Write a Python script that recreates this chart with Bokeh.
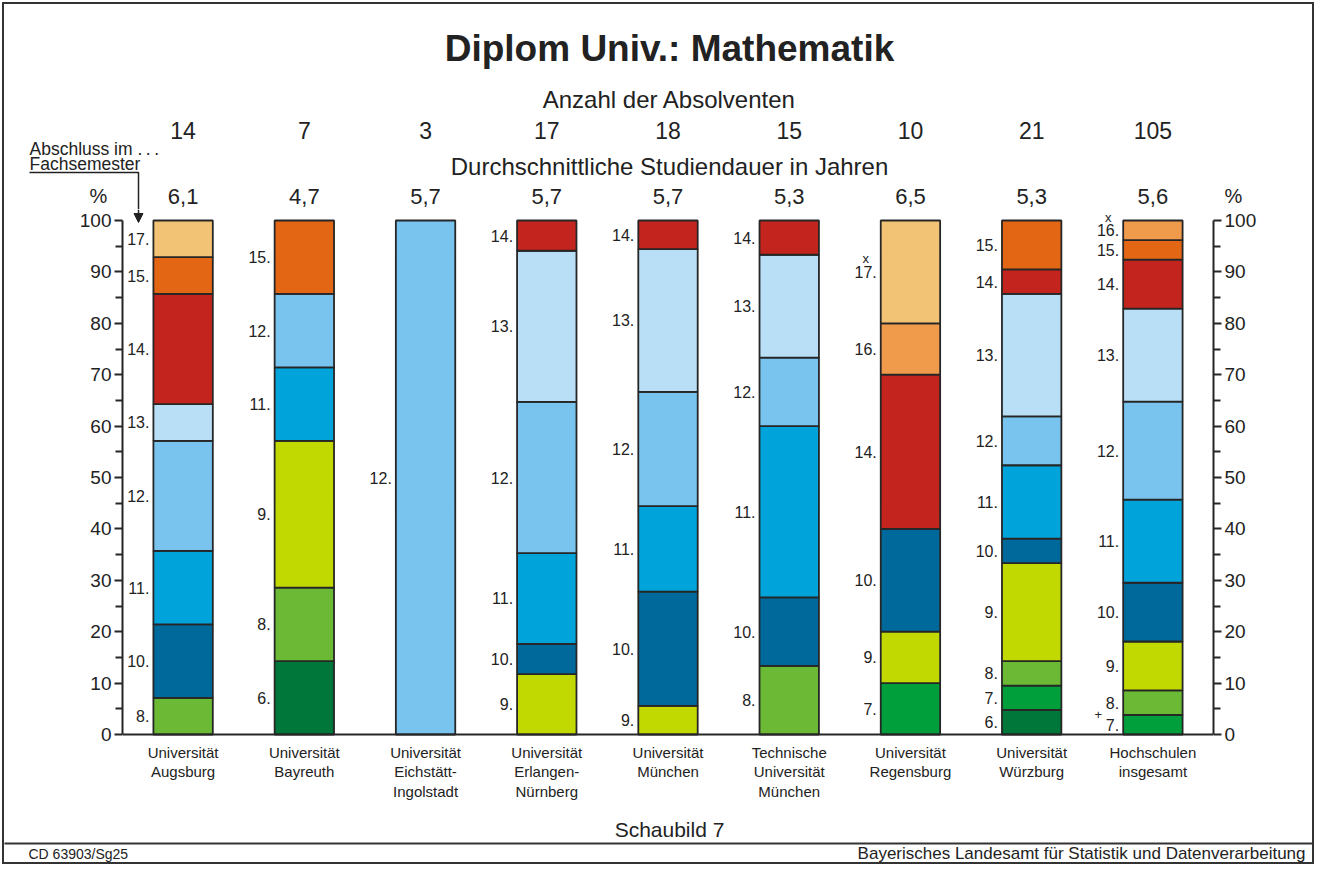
from bokeh.plotting import figure
from bokeh.layouts import column
from bokeh.models import (FactorRange, Range1d, LinearAxis, FixedTicker, ColumnDataSource,
                          LabelSet, Span, Arrow, NormalHead)
from bokeh.core.properties import value
from bokeh.embed import file_html
from bokeh.resources import INLINE

# ---------------- data ----------------
universities = ["Universität\nAugsburg", "Universität\nBayreuth", "Universität\nEichstätt-\nIngolstadt",
                "Universität\nErlangen-\nNürnberg", "Universität\nMünchen", "Technische\nUniversität\nMünchen",
                "Universität\nRegensburg", "Universität\nWürzburg", "Hochschulen\ninsgesamt"]
absolventen = [14, 7, 3, 17, 18, 15, 10, 21, 105]
studiendauer = ["6,1", "4,7", "5,7", "5,7", "5,7", "5,3", "6,5", "5,3", "5,6"]

# graduates per "Fachsemester" of the degree (semester: count)
augsburg = {8: 1, 10: 2, 11: 2, 12: 3, 13: 1, 14: 3, 15: 1, 17: 1}
bayreuth = {6: 1, 8: 1, 9: 2, 11: 1, 12: 1, 15: 1}
eichstaett = {12: 3}
erlangen = {9: 2, 10: 1, 11: 3, 12: 5, 13: 5, 14: 1}
muenchen = {9: 1, 10: 4, 11: 3, 12: 4, 13: 5, 14: 1}
tu_muenchen = {8: 2, 10: 2, 11: 5, 12: 2, 13: 3, 14: 1}
regensburg = {7: 1, 9: 1, 10: 2, 14: 3, 16: 1, 17: 2}
wuerzburg = {6: 1, 7: 1, 8: 1, 9: 4, 10: 1, 11: 3, 12: 2, 13: 5, 14: 1, 15: 2}
insgesamt = {7: 4, 8: 5, 9: 10, 10: 12, 11: 17, 12: 20, 13: 19, 14: 10, 15: 4, 16: 4}
counts = [augsburg, bayreuth, eichstaett, erlangen, muenchen, tu_muenchen, regensburg, wuerzburg, insgesamt]

# footnote marks next to a segment label: (university index, semester, mark)
marks = [(6, 17, "x"), (8, 16, "x"), (8, 7, "+")]

semester_colors = {6: "#00773A", 7: "#009F3C", 8: "#6BB934", 9: "#C1D900", 10: "#00699B",
                   11: "#00A3DA", 12: "#78C4EE", 13: "#B8DFF5", 14: "#C3251E", 15: "#E26614",
                   16: "#F09A4C", 17: "#F3C375"}

# ---------------- layout ----------------
FONT = value("Liberation Sans")
TXT = "#222222"
LINE = "#262626"
W, H = 1316, 866
HEAD_H = 209                  # header strip: y 0..209
MAIN_TOP = HEAD_H
FRAME_BOT, MAIN_BOT = 740, 806  # frame bottom / main figure bottom (names axis in between)
FOOT_H = H - MAIN_BOT
FL, FR = 122, 1213            # plot frame (left / right axis lines)
Y_ZERO, Y_HUNDRED = 734, 220
PXY = (Y_ZERO - Y_HUNDRED) / 100.0
N = len(universities)
UNIT = (FR - FL) / N
centers_px = [FL + (i + 0.5) * UNIT for i in range(N)]
CX = (FL + FR) / 2 + 1.5


def sx(px):  # pixel x -> synthetic categorical x of the main plot
    return (px - FL) / UNIT


def sy(py):  # pixel y -> percent
    return (Y_ZERO - py) / PXY


def transparent(f):
    f.frame_align = False
    f.outline_line_color = None
    f.grid.visible = False
    f.border_fill_color = None
    f.background_fill_color = None


def strip(height, y_top):
    f = figure(width=W, height=height, x_range=Range1d(0, W), y_range=Range1d(y_top + height, y_top),
               output_backend="svg", toolbar_location=None, tools="",
               x_axis_location=None, y_axis_location=None,
               min_border=0, min_border_left=0, min_border_right=0, min_border_top=0, min_border_bottom=0)
    transparent(f)
    return f


def txt(f, xs, ys, texts, size, align="center", bold=False):
    f.text(x=xs, y=ys, text=texts, text_align=align, text_baseline="middle", text_font=FONT,
           text_font_size=size, text_color=TXT, text_font_style="bold" if bold else "normal")


# ---------------- header ----------------
head = strip(HEAD_H, 0)
txt(head, [CX], [48], ["Diplom Univ.: Mathematik"], "37px", bold=True)
txt(head, [CX], [99], ["Anzahl der Absolventen"], "24px")
txt(head, centers_px, [130] * N, [str(v) for v in absolventen], "23px")
txt(head, [CX], [166], ["Durchschnittliche Studiendauer in Jahren"], "24px")
txt(head, centers_px, [196] * N, studiendauer, "22px")
txt(head, [98, 1233], [195, 195], ["%", "%"], "20px")
txt(head, [29, 29], [148, 163], ["Abschluss im .\u2009.\u2009.", "Fachsemester"], "17.5px", align="left")
head.line(x=[29, 138, 138], y=[172, 172, HEAD_H], line_color=TXT, line_width=1.5)

# ---------------- main plot ----------------
p = figure(width=W, height=MAIN_BOT - MAIN_TOP, x_range=FactorRange(factors=universities, range_padding=0),
           y_range=Range1d(sy(FRAME_BOT), sy(MAIN_TOP)), output_backend="svg", toolbar_location=None,
           tools="", x_axis_location="below", y_axis_location="left",
           min_border_left=FL, min_border_right=W - FR, min_border_top=0,
           min_border_bottom=MAIN_BOT - FRAME_BOT)
transparent(p)

rows = dict(x=[], bottom=[], top=[], mid=[], color=[], label=[])
for uni, total, cnt in zip(universities, absolventen, counts):
    cum = 0.0
    for sem in sorted(cnt):
        pct = cnt[sem] / total * 100
        rows["x"].append(uni)
        rows["bottom"].append(cum)
        rows["top"].append(cum + pct)
        rows["mid"].append(cum + pct / 2)
        rows["color"].append(semester_colors[sem])
        rows["label"].append(f"{sem}.")
        cum += pct
seg = ColumnDataSource(rows)
BAR_W = 0.49
p.vbar(x="x", bottom="bottom", top="top", width=BAR_W, fill_color="color",
       line_color=LINE, line_width=1.8, source=seg)

lab_off = -(BAR_W * UNIT / 2 + 4)
p.add_layout(LabelSet(x="x", y="mid", text="label", source=seg, x_offset=lab_off,
                      text_align="right", text_baseline="middle", text_font=FONT,
                      text_font_size="16px", text_color=TXT))

mk = dict(x=[], y=[], text=[], xo=[])
for ui, sem, m in marks:
    for x, mid, lab in zip(rows["x"], rows["mid"], rows["label"]):
        if x == universities[ui] and lab == f"{sem}.":
            mk["x"].append(x)
            mk["text"].append(m)
            if m == "x":
                mk["y"].append(mid + 13 / PXY)
                mk["xo"].append(lab_off - 11)
            else:
                mk["y"].append(mid + 10 / PXY)
                mk["xo"].append(lab_off - 21)
p.add_layout(LabelSet(x="x", y="y", text="text", source=ColumnDataSource(mk), x_offset="xo",
                      text_align="center", text_baseline="middle", text_font=FONT,
                      text_font_size="13px", text_color=TXT))

p.add_layout(Span(location=0, dimension="width", line_color=LINE, line_width=2))
p.add_layout(Arrow(end=NormalHead(size=9, fill_color=TXT, line_color=TXT),
                   x_start=sx(138), y_start=sy(MAIN_TOP), x_end=sx(138), y_end=sy(222),
                   line_color=TXT, line_width=1.5))

# university names as the categorical axis below
xa = p.xaxis[0]
xa.axis_line_color = None
xa.major_tick_line_color = None
xa.major_tick_out = 0
xa.major_tick_in = 0
xa.major_label_standoff = 3
xa.major_label_text_font = "Liberation Sans"
xa.major_label_text_font_size = "15px"
xa.major_label_text_line_height = 1.15
xa.major_label_text_color = TXT

ticks = list(range(0, 101, 10))
minor = list(range(5, 100, 10))
ax_r = LinearAxis()
p.add_layout(ax_r, "right")
for ax in (p.yaxis[0], ax_r):
    ax.ticker = FixedTicker(ticks=ticks, minor_ticks=minor)
    ax.bounds = (0, 100)
    ax.axis_line_width = 2
    ax.axis_line_color = LINE
    ax.major_tick_line_width = 2
    ax.minor_tick_line_width = 2
    ax.major_tick_line_color = LINE
    ax.minor_tick_line_color = LINE
    ax.major_tick_out = 8
    ax.major_tick_in = 0
    ax.minor_tick_out = 7
    ax.minor_tick_in = 0
    ax.major_label_standoff = 3
    ax.major_label_text_font = "Liberation Sans"
    ax.major_label_text_font_size = "19px"
    ax.major_label_text_color = TXT

# ---------------- footer ----------------
foot = strip(FOOT_H, MAIN_BOT)
txt(foot, [CX], [829], ["Schaubild 7"], "21px")
foot.line(x=[4, 1312], y=[843, 843], line_color="#333333", line_width=2)
txt(foot, [28], [853], ["CD 63903/Sg25"], "14px", align="left")
txt(foot, [1305], [853], ["Bayerisches Landesamt für Statistik und Datenverarbeitung"], "17px", align="right")

layout = column(head, p, foot, spacing=0,
                styles={"outline": "2px solid #333333", "outline-offset": "-4px",
                        "background-color": "white"})

open("out.html", "w").write(file_html(layout, INLINE))
